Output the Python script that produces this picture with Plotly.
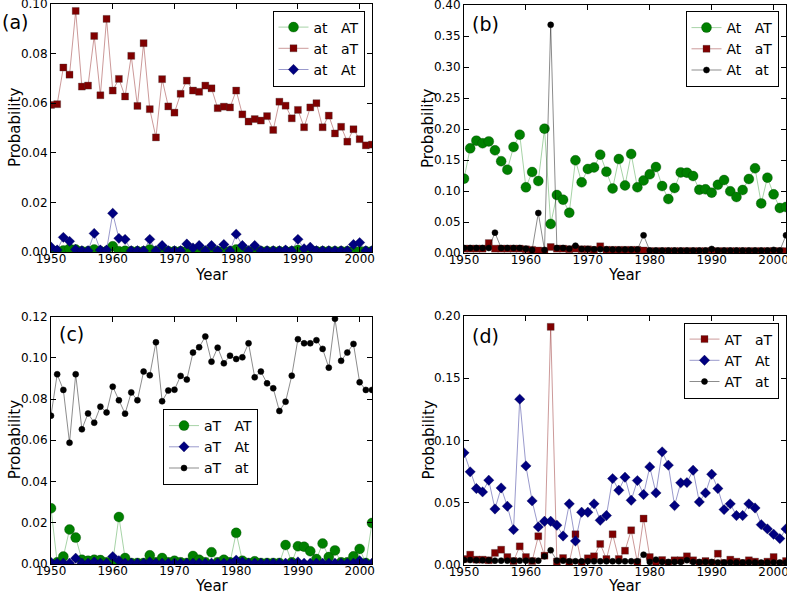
import plotly.graph_objects as go

years = list(range(1950, 2003))

# ---- panel (a) ----
a_at_AT = [0.0003, 0.0003, 0.0006, 0.0013, 0.0010, 0.0003, 0.0003, 0.0010, 0.0003, 0.0003,
           0.0023, 0.0003, 0.0005, 0.0003, 0.0003, 0.0003, 0.0010, 0.0003, 0.0003, 0.0003,
           0.0003, 0.0003, 0.0003, 0.0003, 0.0003, 0.0003, 0.0003, 0.0003, 0.0003, 0.0003,
           0.0010, 0.0003, 0.0003, 0.0003, 0.0003, 0.0003, 0.0003, 0.0003, 0.0003, 0.0003,
           0.0008, 0.0003, 0.0003, 0.0003, 0.0003, 0.0003, 0.0003, 0.0003, 0.0003, 0.0003,
           0.0003, 0.0003, 0.0003]
a_at_aT = [0.0593, 0.0596, 0.0744, 0.0715, 0.0972, 0.0667, 0.0671, 0.0871, 0.0632, 0.0940,
           0.0651, 0.0698, 0.0627, 0.0791, 0.0589, 0.0842, 0.0576, 0.0462, 0.0697, 0.0587,
           0.0562, 0.0638, 0.0691, 0.0651, 0.0646, 0.0671, 0.0660, 0.0580, 0.0586, 0.0583,
           0.0651, 0.0555, 0.0526, 0.0536, 0.0530, 0.0548, 0.0492, 0.0606, 0.0590, 0.0539,
           0.0573, 0.0503, 0.0583, 0.0600, 0.0503, 0.0550, 0.0478, 0.0505, 0.0445, 0.0495,
           0.0455, 0.0430, 0.0433]
a_at_At = [0.0020, 0.0008, 0.0059, 0.0043, 0.0010, 0.0005, 0.0005, 0.0075, 0.0008, 0.0008,
           0.0156, 0.0055, 0.0051, 0.0005, 0.0005, 0.0005, 0.0051, 0.0005, 0.0026, 0.0005,
           0.0005, 0.0005, 0.0032, 0.0016, 0.0026, 0.0005, 0.0026, 0.0005, 0.0030, 0.0005,
           0.0072, 0.0026, 0.0005, 0.0026, 0.0005, 0.0005, 0.0005, 0.0005, 0.0008, 0.0005,
           0.0051, 0.0013, 0.0019, 0.0005, 0.0005, 0.0005, 0.0005, 0.0005, 0.0005, 0.0030,
           0.0038, 0.0005, 0.0005]

# ---- panel (b) ----
b_At_AT = [0.1199, 0.1688, 0.1812, 0.1770, 0.1800, 0.1656, 0.1480, 0.1344, 0.1710, 0.1908,
           0.1059, 0.1306, 0.1161, 0.2005, 0.0468, 0.0935, 0.0860, 0.0650, 0.1495, 0.1140,
           0.1355, 0.1380, 0.1586, 0.1310, 0.1040, 0.1516, 0.1090, 0.1597, 0.1060, 0.1170,
           0.1270, 0.1387, 0.1080, 0.0871, 0.1048, 0.1300, 0.1296, 0.1242, 0.1020, 0.1027,
           0.0973, 0.1100, 0.1177, 0.0995, 0.0903, 0.1016, 0.1194, 0.1366, 0.0800, 0.1215,
           0.0946, 0.0726, 0.0742]
b_At_aT = [0.0070, 0.0070, 0.0070, 0.0070, 0.0160, 0.0070, 0.0070, 0.0070, 0.0070, 0.0070,
           0.0060, 0.0050, 0.0040, 0.0030, 0.0097, 0.0070, 0.0070, 0.0060, 0.0070, 0.0060,
           0.0060, 0.0050, 0.0108, 0.0050, 0.0050, 0.0050, 0.0050, 0.0050, 0.0050, 0.0040,
           0.0030, 0.0030, 0.0030, 0.0030, 0.0030, 0.0030, 0.0030, 0.0030, 0.0030, 0.0030,
           0.0030, 0.0030, 0.0030, 0.0030, 0.0030, 0.0030, 0.0030, 0.0030, 0.0030, 0.0030,
           0.0030, 0.0030, 0.0030]
b_At_at = [0.0080, 0.0080, 0.0080, 0.0080, 0.0080, 0.0328, 0.0080, 0.0080, 0.0080, 0.0080,
           0.0070, 0.0050, 0.0645, 0.0050, 0.3680, 0.0080, 0.0080, 0.0070, 0.0118, 0.0065,
           0.0065, 0.0060, 0.0060, 0.0060, 0.0055, 0.0055, 0.0055, 0.0055, 0.0055, 0.0285,
           0.0040, 0.0040, 0.0040, 0.0040, 0.0040, 0.0040, 0.0040, 0.0040, 0.0040, 0.0040,
           0.0065, 0.0040, 0.0040, 0.0040, 0.0040, 0.0040, 0.0040, 0.0040, 0.0040, 0.0040,
           0.0050, 0.0040, 0.0285]

# ---- panel (c) ----
c_aT_AT = [0.0270, 0.0008, 0.0036, 0.0167, 0.0128, 0.0021, 0.0016, 0.0021, 0.0019, 0.0008,
           0.0010, 0.0228, 0.0029, 0.0005, 0.0005, 0.0005, 0.0042, 0.0008, 0.0029, 0.0008,
           0.0016, 0.0008, 0.0005, 0.0039, 0.0021, 0.0008, 0.0057, 0.0008, 0.0021, 0.0008,
           0.0151, 0.0016, 0.0005, 0.0013, 0.0005, 0.0005, 0.0005, 0.0005, 0.0092, 0.0008,
           0.0086, 0.0084, 0.0062, 0.0024, 0.0099, 0.0034, 0.0066, 0.0008, 0.0008, 0.0037,
           0.0073, 0.0005, 0.0199]
c_aT_At = [0.0008, 0.0004, 0.0004, 0.0004, 0.0028, 0.0004, 0.0004, 0.0010, 0.0004, 0.0004,
           0.0036, 0.0016, 0.0004, 0.0004, 0.0004, 0.0004, 0.0010, 0.0004, 0.0004, 0.0004,
           0.0004, 0.0004, 0.0004, 0.0004, 0.0004, 0.0004, 0.0004, 0.0004, 0.0004, 0.0004,
           0.0019, 0.0010, 0.0004, 0.0004, 0.0004, 0.0004, 0.0004, 0.0004, 0.0004, 0.0004,
           0.0010, 0.0004, 0.0004, 0.0004, 0.0004, 0.0004, 0.0004, 0.0004, 0.0004, 0.0004,
           0.0016, 0.0004, 0.0004]
c_aT_at = [0.0719, 0.0920, 0.0844, 0.0588, 0.0920, 0.0653, 0.0730, 0.0685, 0.0763, 0.0735,
           0.0860, 0.0794, 0.0729, 0.0832, 0.0794, 0.0933, 0.0915, 0.1075, 0.0789, 0.0841,
           0.0845, 0.0912, 0.0894, 0.1025, 0.1051, 0.1103, 0.0981, 0.1049, 0.0973, 0.1010,
           0.0994, 0.1002, 0.1070, 0.0905, 0.0933, 0.0876, 0.0852, 0.0742, 0.0787, 0.0913,
           0.1090, 0.1070, 0.1070, 0.1085, 0.1043, 0.0952, 0.1189, 0.0985, 0.1025, 0.1067,
           0.0881, 0.0844, 0.0844]

# ---- panel (d) ----
d_AT_aT = [0.0048, 0.0083, 0.0043, 0.0043, 0.0038, 0.0097, 0.0123, 0.0064, 0.0032, 0.0150,
           0.0064, 0.0032, 0.0231, 0.0075, 0.1913, 0.0027, 0.0056, 0.0021, 0.0247, 0.0016,
           0.0054, 0.0070, 0.0169, 0.0048, 0.0247, 0.0048, 0.0115, 0.0279, 0.0021, 0.0373,
           0.0064, 0.0010, 0.0040, 0.0016, 0.0038, 0.0038, 0.0070, 0.0038, 0.0016, 0.0032,
           0.0016, 0.0091, 0.0016, 0.0043, 0.0027, 0.0016, 0.0038, 0.0027, 0.0010, 0.0027,
           0.0064, 0.0010, 0.0032]
d_AT_At = [0.0901, 0.0748, 0.0614, 0.0587, 0.0681, 0.0450, 0.0619, 0.0472, 0.0284, 0.1332,
           0.0796, 0.0515, 0.0306, 0.0351, 0.0351, 0.0319, 0.0233, 0.0491, 0.0193, 0.0424,
           0.0424, 0.0491, 0.0359, 0.0397, 0.0694, 0.0600, 0.0705, 0.0520, 0.0678, 0.0566,
           0.0788, 0.0579, 0.0909, 0.0802, 0.0477, 0.0660, 0.0662, 0.0761, 0.0507, 0.0579,
           0.0729, 0.0614, 0.0445, 0.0491, 0.0397, 0.0397, 0.0491, 0.0458, 0.0324, 0.0290,
           0.0247, 0.0212, 0.0290]
d_AT_at = [0.0040, 0.0040, 0.0038, 0.0038, 0.0038, 0.0035, 0.0035, 0.0035, 0.0035, 0.0035,
           0.0035, 0.0035, 0.0035, 0.0070, 0.0118, 0.0035, 0.0035, 0.0030, 0.0030, 0.0030,
           0.0030, 0.0030, 0.0030, 0.0030, 0.0030, 0.0030, 0.0030, 0.0030, 0.0030, 0.0083,
           0.0025, 0.0043, 0.0025, 0.0025, 0.0025, 0.0025, 0.0038, 0.0025, 0.0025, 0.0025,
           0.0025, 0.0020, 0.0020, 0.0020, 0.0020, 0.0020, 0.0020, 0.0020, 0.0020, 0.0020,
           0.0020, 0.0020, 0.0020]

x_ticks = [1950, 1960, 1970, 1980, 1990, 2000]
y_ranges = [[0, 0.10], [0, 0.40], [0, 0.12], [0, 0.20]]
y_dticks = [0.02, 0.05, 0.02, 0.05]
panel_labels = ["(a)", "(b)", "(c)", "(d)"]
x_title = "Year"
y_title = "Probability"

W, H = 787, 592
FONT = "DejaVu Sans"
NB = "\u00a0"

STY = {
    "green": dict(line=dict(color="rgba(0,128,0,0.35)", width=1),
                  marker=dict(symbol="circle", size=10, color="#008000",
                              line=dict(color="rgba(0,60,0,0.6)", width=0.5))),
    "red": dict(line=dict(color="rgba(128,0,0,0.4)", width=1),
                marker=dict(symbol="square", size=7, color="#800000",
                            line=dict(color="rgba(60,60,60,0.6)", width=0.5))),
    "blue": dict(line=dict(color="rgba(0,0,128,0.4)", width=1),
                 marker=dict(symbol="diamond", size=8, color="#000080",
                             line=dict(color="rgba(0,0,60,0.6)", width=0.5))),
    "black": dict(line=dict(color="rgba(0,0,0,0.45)", width=1),
                  marker=dict(symbol="circle", size=6, color="#000000",
                              line=dict(color="#000000", width=0.5))),
}

panels = [
    [("at", "AT", a_at_AT, "green"), ("at", "aT", a_at_aT, "red"), ("at", "At", a_at_At, "blue")],
    [("At", "AT", b_At_AT, "green"), ("At", "aT", b_At_aT, "red"), ("At", "at", b_At_at, "black")],
    [("aT", "AT", c_aT_AT, "green"), ("aT", "At", c_aT_At, "blue"), ("aT", "at", c_aT_at, "black")],
    [("AT", "aT", d_AT_aT, "red"), ("AT", "At", d_AT_At, "blue"), ("AT", "at", d_AT_at, "black")],
]

# pixel boxes of the four axes: (left, right, top, bottom)
boxes = [(51, 372, 4, 252), (464, 786, 5, 253), (51, 372, 316.5, 564), (464, 786, 316, 565)]
legend_pos = [
    dict(x=364.5 / W, y=1 - 10.5 / H, xanchor="right", yanchor="top"),
    dict(x=778.5 / W, y=1 - 11 / H, xanchor="right", yanchor="top"),
    dict(x=163 / W, y=1 - 409 / H, xanchor="left", yanchor="top"),
    dict(x=778.5 / W, y=1 - 322.5 / H, xanchor="right", yanchor="top"),
]
label_pos = [(0, 22), (470, 24), (57, 334), (470, 336)]
ytitle_x = [15, 428, 15, 428]
xtitle_y = [275, 275, 586, 586]

fig = go.Figure()
layout = dict(width=W, height=H, margin=dict(l=0, r=0, t=0, b=0, autoexpand=False),
              paper_bgcolor="white", plot_bgcolor="white",
              font=dict(family=FONT, size=12, color="black"), annotations=[])

for i, (series, box) in enumerate(zip(panels, boxes)):
    n = "" if i == 0 else str(i + 1)
    leg = "legend" if i == 0 else "legend" + str(i + 1)
    for (s1, s2, vals, col) in series:
        st = STY[col]
        fig.add_trace(go.Scatter(x=years, y=vals, mode="lines+markers",
                                 name=s1 + NB * 3 + s2, line=st["line"], marker=st["marker"],
                                 xaxis="x" + n, yaxis="y" + n, legend=leg))
    l, r, t, b = box
    common = dict(ticks="inside", ticklen=5, tickcolor="black",
                  showline=True, linecolor="black", linewidth=1, mirror="ticks",
                  showgrid=False, zeroline=False, automargin=False,
                  ticklabeloverflow="allow", tickfont=dict(size=12))
    layout["xaxis" + n] = dict(domain=[l / W, r / W], range=[1950, 2002], anchor="y" + n,
                               tickvals=x_ticks, ticklabelstandoff=-4, **common)
    layout["yaxis" + n] = dict(domain=[1 - b / H, 1 - t / H], range=y_ranges[i], anchor="x" + n,
                               dtick=y_dticks[i], tick0=0, tickformat=".2f", **common)
    layout[leg] = dict(**legend_pos[i], bgcolor="white", bordercolor="black", borderwidth=1,
                       font=dict(size=14), tracegroupgap=0)
    px, py = label_pos[i]
    layout["annotations"].append(dict(text=panel_labels[i], xref="paper", yref="paper",
                                      x=px / W, y=1 - py / H, xanchor="left", yanchor="middle",
                                      showarrow=False, font=dict(size=19)))
    layout["annotations"].append(dict(text=x_title, xref="paper", yref="paper",
                                      x=(l + r) / 2 / W, y=1 - xtitle_y[i] / H,
                                      xanchor="center", yanchor="middle",
                                      showarrow=False, font=dict(size=15)))
    layout["annotations"].append(dict(text=y_title, xref="paper", yref="paper",
                                      x=ytitle_x[i] / W, y=1 - (t + b) / 2 / H, textangle=-90,
                                      xanchor="center", yanchor="middle",
                                      showarrow=False, font=dict(size=15)))

fig.update_layout(**layout)
fig.write_html("out.html", config={"displayModeBar": False},
               post_script="document.body.style.margin='0';document.body.style.padding='0';"
                           "document.body.style.overflow='hidden';")
